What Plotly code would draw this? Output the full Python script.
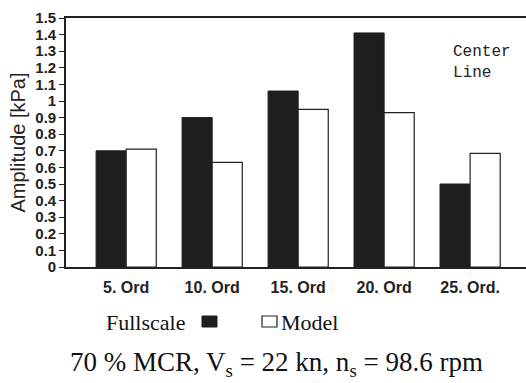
import plotly.graph_objects as go

categories = ["5. Ord", "10. Ord", "15. Ord", "20. Ord", "25. Ord."]
fullscale = [0.70, 0.90, 1.06, 1.41, 0.50]
model = [0.71, 0.63, 0.95, 0.93, 0.685]
y_ticks = [0, 0.1, 0.2, 0.3, 0.4, 0.5, 0.6, 0.7, 0.8, 0.9, 1.0, 1.1, 1.2, 1.3, 1.4, 1.5]
y_ticktext = ["0", "0.1", "0.2", "0.3", "0.4", "0.5", "0.6", "0.7", "0.8", "0.9",
              "1", "1.1", "1.2", "1.3", "1.4", "1.5"]

W, H = 526, 383
L, R, T, B = 66, 0, 18, 116
PW, PH = W - L - R, H - T - B


def px(x):
    return (x - L) / PW


def py(y):
    return (H - B - y) / PH


fig = go.Figure()
fig.add_trace(go.Bar(x=categories, y=fullscale, name="Fullscale",
                     marker=dict(color="#1e1e1e", line=dict(color="#1e1e1e", width=1))))
fig.add_trace(go.Bar(x=categories, y=model, name="Model",
                     marker=dict(color="white", line=dict(color="#222", width=1.2))))

fig.update_layout(
    width=W, height=H,
    margin=dict(l=L, r=R, t=T, b=B, pad=0),
    paper_bgcolor="white", plot_bgcolor="white",
    barmode="group", bargap=0.3, bargroupgap=0,
    showlegend=False,
    font=dict(family="Liberation Sans, Arial", color="#222"),
)
fig.update_xaxes(
    type="category", range=[-0.70, 4.65],
    showline=True, linecolor="#222", linewidth=1.6, mirror=True,
    ticks="", showgrid=False,
    tickfont=dict(size=16, family="Liberation Sans, Arial", weight="bold"),
    ticklabelstandoff=5,
)
fig.update_yaxes(
    range=[0, 1.5], tickvals=y_ticks, ticktext=y_ticktext,
    showline=True, linecolor="#222", linewidth=1.6,
    ticks="outside", ticklen=5, tickwidth=1.2, tickcolor="#222",
    showgrid=False, zeroline=False,
    tickfont=dict(size=15, family="Liberation Sans, Arial", weight="bold"),
    title=dict(text="Amplitude [kPa]", font=dict(size=20, family="Liberation Sans, Arial"), standoff=4),
)

# Center Line label
fig.add_annotation(x=px(451), y=py(41), xref="paper", yref="paper", xanchor="left", yanchor="top",
                   text="Center<br>Line", showarrow=False, align="left",
                   font=dict(family="Liberation Mono, Courier New", size=16, color="#222"))

# legend
fig.add_annotation(x=px(104), y=py(322), xref="paper", yref="paper", xanchor="left", yanchor="middle",
                   text="Fullscale", showarrow=False,
                   font=dict(family="Liberation Serif, Times New Roman", size=22, color="#111"))
fig.add_annotation(x=px(279), y=py(322), xref="paper", yref="paper", xanchor="left", yanchor="middle",
                   text="Model", showarrow=False,
                   font=dict(family="Liberation Serif, Times New Roman", size=22, color="#111"))
fig.add_shape(type="rect", xref="paper", yref="paper", x0=px(202), x1=px(217), y0=py(327), y1=py(316),
              fillcolor="#1e1e1e", line=dict(color="#1e1e1e", width=1))
fig.add_shape(type="rect", xref="paper", yref="paper", x0=px(262), x1=px(277), y0=py(327), y1=py(316),
              fillcolor="white", line=dict(color="#222", width=1.2))

# caption
fig.add_annotation(x=px(276), y=py(364), xref="paper", yref="paper", xanchor="center", yanchor="middle",
                   text="70 % MCR, V<sub>s</sub> = 22 kn, n<sub>s</sub> = 98.6 rpm", showarrow=False,
                   font=dict(family="Liberation Serif, Times New Roman", size=27, color="#111"))

fig.write_html("out.html")
